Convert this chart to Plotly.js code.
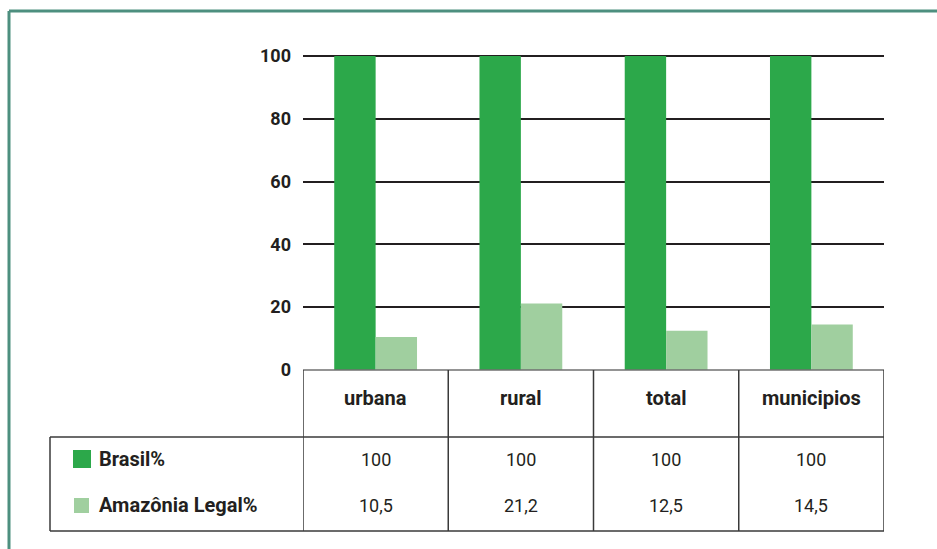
<!DOCTYPE html>
<html>
<head>
<meta charset="utf-8">
<script src="https://cdn.plot.ly/plotly-3.0.1.min.js"></script>
<style>
  html, body { margin: 0; padding: 0; background: #ffffff; }
  #chart { width: 937px; height: 549px; }
</style>
</head>
<body>
<div id="chart"></div>
<script>
// --- DATA ---
const categories = ['urbana', 'rural', 'total', 'municipios'];
const brasilValues = [100, 100, 100, 100];
const amazoniaValues = [10.5, 21.2, 12.5, 14.5];
const seriesNames = ['Brasil%', 'Amazônia Legal%'];
const yTicks = [0, 20, 40, 60, 80, 100];

// --- STYLE ---
const BRASIL_COLOR = '#2ca84a';
const AMAZONIA_COLOR = '#a0cf9f';
const FRAME_COLOR = '#4d8f7f';
const TABLE_LINE = '#3a3a3a';
const TEXT_COLOR = '#231f20';
const FONT = 'Roboto, "Liberation Sans", sans-serif';

// plot area spans 54..370 px (316 px tall); paper-y of the table rows
const PLOT_H = 316;
const py = px => (370 - px) / PLOT_H;
const HEADER_Y = py(398);
const ROW_LINE_Y = py(437);
const BOTTOM_Y = py(531);
const ROW_Y = [py(459), py(505)];
const TABLE_LEFT = (50 - 303) / 581;
const pxX = px => (px - 303) / 581;

const fmt = v => String(v).replace('.', ',');

const traces = [
    {
        type: 'bar',
        x: categories,
        y: brasilValues,
        name: seriesNames[0],
        marker: { color: BRASIL_COLOR },
        hoverinfo: 'x+y'
    },
    {
        type: 'bar',
        x: categories,
        y: amazoniaValues,
        name: seriesNames[1],
        marker: { color: AMAZONIA_COLOR },
        hoverinfo: 'x+y'
    }
];

const shapes = [];
const annotations = [];
const line = { color: TABLE_LINE, width: 1.5 };

// frame around the whole figure
shapes.push({ type: 'line', xref: 'paper', yref: 'paper', x0: pxX(9), x1: pxX(940), y0: py(11), y1: py(11), line: { color: FRAME_COLOR, width: 3 } });
shapes.push({ type: 'line', xref: 'paper', yref: 'paper', x0: pxX(9), x1: pxX(9), y0: py(11), y1: py(552), line: { color: FRAME_COLOR, width: 3 } });

// table header top line and column separators (category boundaries)
shapes.push({ type: 'line', xref: 'x', yref: 'paper', x0: -0.5, x1: categories.length - 0.5, y0: 0, y1: 0, line: { color: '#707070', width: 1.5 } });
for (let i = 0; i <= categories.length; i++) {
    shapes.push({ type: 'line', xref: 'x', yref: 'paper', x0: i - 0.5, x1: i - 0.5, y0: 0, y1: BOTTOM_Y, line: line });
}
// data rows box
shapes.push({ type: 'line', xref: 'paper', yref: 'paper', x0: TABLE_LEFT, x1: 1, y0: ROW_LINE_Y, y1: ROW_LINE_Y, line: line });
shapes.push({ type: 'line', xref: 'paper', yref: 'paper', x0: TABLE_LEFT, x1: 1, y0: BOTTOM_Y, y1: BOTTOM_Y, line: line });
shapes.push({ type: 'line', xref: 'paper', yref: 'paper', x0: TABLE_LEFT, x1: TABLE_LEFT, y0: ROW_LINE_Y, y1: BOTTOM_Y, line: line });

// legend swatches
shapes.push({ type: 'rect', xref: 'paper', yref: 'paper', x0: pxX(73), x1: pxX(91), y0: py(450), y1: py(468), fillcolor: BRASIL_COLOR, line: { width: 0 } });
shapes.push({ type: 'rect', xref: 'paper', yref: 'paper', x0: pxX(74), x1: pxX(89), y0: py(498), y1: py(513), fillcolor: AMAZONIA_COLOR, line: { width: 0 } });

// header labels
categories.forEach(c => {
    annotations.push({
        x: c, xref: 'x', y: HEADER_Y, yref: 'paper', text: '<b>' + c + '</b>',
        showarrow: false, xanchor: 'center', yanchor: 'middle',
        font: { family: FONT, size: 20, color: TEXT_COLOR }
    });
});

// row labels and values
const rows = [brasilValues, amazoniaValues];
rows.forEach((vals, r) => {
    annotations.push({
        x: pxX(97), xref: 'paper', y: ROW_Y[r], yref: 'paper', text: '<b>' + seriesNames[r] + '</b>',
        showarrow: false, xanchor: 'left', yanchor: 'middle',
        font: { family: FONT, size: 20, color: TEXT_COLOR }
    });
    vals.forEach((v, i) => {
        annotations.push({
            x: categories[i], xref: 'x', y: ROW_Y[r], yref: 'paper', text: fmt(v),
            showarrow: false, xanchor: 'center', yanchor: 'middle',
            font: { family: FONT, size: 18, color: TEXT_COLOR }
        });
    });
});

const layout = {
    width: 937,
    height: 549,
    margin: { l: 303, r: 53, t: 54, b: 179, pad: 0 },
    paper_bgcolor: '#ffffff',
    plot_bgcolor: '#ffffff',
    showlegend: false,
    barmode: 'group',
    bargap: 0.43,
    bargroupgap: 0,
    xaxis: {
        type: 'category',
        range: [-0.5, categories.length - 0.5],
        showticklabels: false,
        showgrid: false,
        zeroline: false,
        showline: false,
        fixedrange: true
    },
    yaxis: {
        range: [0, 100.6],
        tickvals: yTicks,
        ticktext: yTicks.map(t => '<b>' + t + '</b>'),
        ticks: '',
        ticklabelstandoff: 11,
        showgrid: true,
        gridcolor: TEXT_COLOR,
        gridwidth: 2,
        zeroline: false,
        showline: false,
        tickfont: { family: FONT, size: 18, color: TEXT_COLOR },
        fixedrange: true
    },
    shapes: shapes,
    annotations: annotations
};

Plotly.newPlot('chart', traces, layout, { displayModeBar: false, responsive: false });
</script>
</body>
</html>
